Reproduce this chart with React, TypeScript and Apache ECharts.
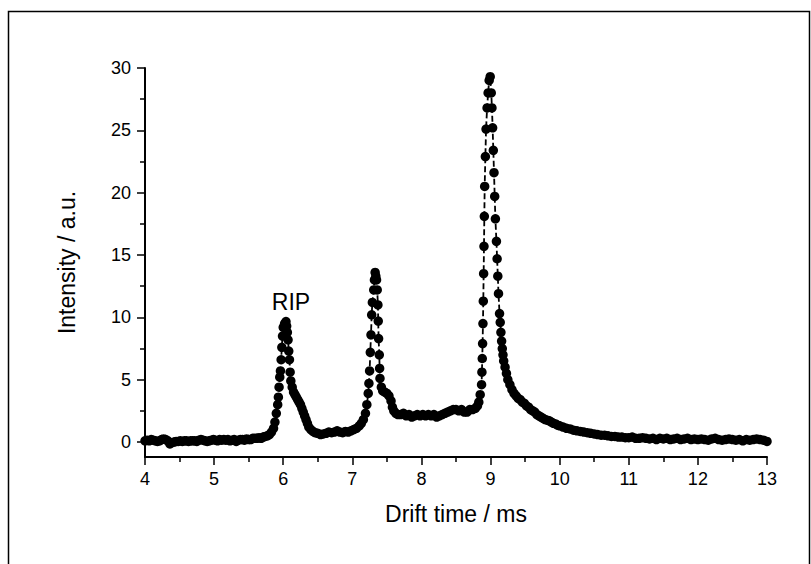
import React, { useEffect, useRef } from "react";
import * as echarts from "echarts";

// Drift time (ms) / intensity (a.u.) pairs, by region
const baselineLeft: [number, number][] = [
  [4.0, 0.1], [4.03, 0.15], [4.06, 0.1], [4.09, 0.2], [4.12, 0.15], [4.15, 0.1], [4.18, 0.05], [4.21, 0.1],
  [4.24, 0.2], [4.27, 0.25], [4.3, 0.2], [4.33, 0.1], [4.36, -0.15], [4.39, -0.05], [4.42, 0.0], [4.45, 0.05],
  [4.48, 0.05], [4.51, 0.1], [4.54, 0.05], [4.57, 0.1], [4.6, 0.1], [4.63, 0.05], [4.66, 0.1], [4.69, 0.1],
  [4.72, 0.1], [4.75, 0.05], [4.78, 0.15], [4.81, 0.2], [4.84, 0.15], [4.87, 0.1], [4.9, 0.05], [4.93, 0.1],
  [4.96, 0.15], [4.99, 0.2], [5.02, 0.15], [5.05, 0.1], [5.08, 0.2], [5.11, 0.15], [5.14, 0.2], [5.17, 0.15],
  [5.2, 0.2], [5.23, 0.1], [5.26, 0.15], [5.29, 0.2], [5.32, 0.05], [5.35, 0.15], [5.38, 0.2], [5.41, 0.2],
  [5.44, 0.15], [5.47, 0.25], [5.5, 0.2], [5.53, 0.2], [5.56, 0.3], [5.59, 0.3], [5.62, 0.3], [5.65, 0.35],
  [5.68, 0.3], [5.71, 0.4], [5.74, 0.45], [5.77, 0.5], [5.8, 0.6], [5.83, 0.8], [5.86, 1.1], [5.88, 1.6],
];

const ripPeak: [number, number][] = [
  [5.9, 2.3], [5.92, 3.0], [5.93, 3.6], [5.94, 4.4], [5.95, 5.2], [5.96, 5.7], [5.97, 6.6], [5.98, 7.6],
  [5.99, 8.5], [6.0, 9.2], [6.02, 9.5], [6.04, 9.66], [6.05, 9.3], [6.06, 8.8], [6.07, 8.2], [6.08, 7.3],
  [6.09, 6.6], [6.1, 5.6], [6.11, 4.9], [6.13, 4.4], [6.15, 4.0], [6.17, 3.8], [6.19, 3.6], [6.21, 3.4],
  [6.23, 3.2], [6.25, 3.0], [6.27, 2.7], [6.29, 2.4], [6.31, 2.1], [6.33, 1.8], [6.35, 1.5], [6.37, 1.2],
  [6.4, 1.0], [6.43, 0.85], [6.46, 0.75], [6.5, 0.7], [6.54, 0.6], [6.58, 0.65], [6.62, 0.7], [6.66, 0.8],
  [6.7, 0.75], [6.74, 0.8], [6.78, 0.9], [6.82, 0.8], [6.86, 0.75], [6.9, 0.85], [6.94, 0.8], [6.98, 0.9],
  [7.02, 1.0], [7.06, 1.1], [7.1, 1.3], [7.13, 1.5], [7.16, 1.8], [7.19, 2.3], [7.21, 3.0],
];

const secondPeak: [number, number][] = [
  [7.23, 3.9], [7.24, 4.7], [7.25, 5.7], [7.26, 7.2], [7.27, 8.6], [7.28, 10.2], [7.29, 11.2], [7.31, 12.2],
  [7.32, 13.0], [7.33, 13.6], [7.34, 13.3], [7.35, 13.0], [7.36, 12.2], [7.37, 11.0], [7.375, 9.7], [7.38, 8.3],
  [7.39, 7.0], [7.395, 5.9], [7.4, 5.1], [7.42, 4.4], [7.44, 4.1], [7.47, 4.0], [7.5, 3.9], [7.53, 3.7],
  [7.56, 3.3], [7.58, 2.8], [7.6, 2.5], [7.63, 2.3], [7.66, 2.2],
];

const plateau: [number, number][] = [
  [7.7, 2.2], [7.74, 2.3], [7.78, 2.1], [7.82, 2.2], [7.86, 2.0], [7.9, 2.1], [7.94, 2.2], [7.98, 2.1],
  [8.02, 2.2], [8.06, 2.1], [8.1, 2.2], [8.14, 2.1], [8.18, 2.2], [8.22, 2.0], [8.26, 2.1], [8.3, 2.2],
  [8.34, 2.3], [8.38, 2.4], [8.42, 2.5], [8.46, 2.6], [8.5, 2.6], [8.54, 2.5], [8.58, 2.6], [8.62, 2.4],
  [8.66, 2.4], [8.7, 2.6], [8.74, 2.6], [8.78, 2.7], [8.81, 2.9], [8.83, 3.2], [8.85, 3.8], [8.87, 4.6],
];

const mainPeak: [number, number][] = [
  [8.875, 5.6], [8.88, 6.7], [8.885, 7.9], [8.89, 9.5], [8.895, 11.3], [8.9, 13.5], [8.905, 15.7], [8.91, 18.1],
  [8.915, 20.5], [8.925, 22.9], [8.935, 25.1], [8.95, 26.8], [8.965, 28.0], [8.98, 29.0], [8.995, 29.3],
  [9.01, 28.0], [9.02, 26.8], [9.03, 25.2], [9.04, 23.4], [9.05, 21.6], [9.06, 19.7], [9.07, 17.9], [9.085, 16.1],
  [9.095, 14.7], [9.105, 13.3], [9.115, 11.9], [9.13, 10.3], [9.14, 9.6], [9.15, 8.8], [9.16, 8.1], [9.17, 7.5],
  [9.18, 7.0], [9.19, 6.5], [9.21, 6.0], [9.23, 5.5], [9.25, 5.0], [9.28, 4.6], [9.31, 4.2], [9.34, 3.9],
  [9.37, 3.7], [9.4, 3.5], [9.43, 3.4], [9.46, 3.2], [9.49, 3.1], [9.52, 2.9], [9.55, 2.8], [9.58, 2.6],
  [9.61, 2.5], [9.64, 2.4], [9.67, 2.2], [9.7, 2.1], [9.73, 2.0], [9.76, 1.9], [9.79, 1.8], [9.82, 1.75],
  [9.85, 1.7], [9.88, 1.6], [9.91, 1.5], [9.94, 1.45], [9.97, 1.35],
];

const tail: [number, number][] = [
  [10.0, 1.3], [10.05, 1.2], [10.1, 1.1], [10.15, 1.05], [10.2, 0.95], [10.25, 0.9], [10.3, 0.85], [10.35, 0.8],
  [10.4, 0.75], [10.45, 0.7], [10.5, 0.65], [10.55, 0.6], [10.6, 0.55], [10.65, 0.55], [10.7, 0.5], [10.75, 0.45],
  [10.8, 0.45], [10.85, 0.4], [10.9, 0.4], [10.95, 0.35], [11.0, 0.35], [11.05, 0.4], [11.1, 0.3], [11.15, 0.3],
  [11.2, 0.35], [11.25, 0.3], [11.3, 0.25], [11.35, 0.3], [11.4, 0.2], [11.45, 0.3], [11.5, 0.25], [11.55, 0.3],
  [11.6, 0.2], [11.65, 0.25], [11.7, 0.3], [11.75, 0.2], [11.8, 0.25], [11.85, 0.3], [11.9, 0.2], [11.95, 0.25],
  [12.0, 0.2], [12.05, 0.25], [12.1, 0.2], [12.15, 0.15], [12.2, 0.25], [12.25, 0.3], [12.3, 0.2], [12.35, 0.15],
  [12.4, 0.2], [12.45, 0.25], [12.5, 0.2], [12.55, 0.15], [12.6, 0.2], [12.65, 0.1], [12.7, 0.2], [12.75, 0.15],
  [12.8, 0.2], [12.85, 0.25], [12.9, 0.2], [12.95, 0.15], [13.0, 0.05],
];

const yLabelValues = [0, 5, 10, 15, 20, 25, 30];
const yMinorValues = [2.5, 7.5, 12.5, 17.5, 22.5, 27.5];
const xAxisTitle = "Drift time / ms";
const yAxisTitle = "Intensity / a.u.";
const peakLabel = "RIP";

const FONT = "'Liberation Sans', Arial, Helvetica, sans-serif";

export default function App() {
  const ref = useRef<HTMLDivElement>(null);
  useEffect(() => {
    if (!ref.current) return;
    const chart = echarts.init(ref.current, null, { renderer: "svg" });
    const data = [...baselineLeft, ...ripPeak, ...secondPeak, ...plateau, ...mainPeak, ...tail];
    const axisColor = "#000";
    chart.setOption({
      animation: false,
      backgroundColor: "#fff",
      textStyle: { fontFamily: FONT },
      grid: { left: 145, right: 44, top: 68, bottom: 107, containLabel: false },
      xAxis: {
        type: "value",
        min: 4,
        max: 13,
        interval: 1,
        name: xAxisTitle,
        nameLocation: "middle",
        nameGap: 45,
        nameTextStyle: { fontSize: 23, color: "#000", fontFamily: FONT },
        axisLine: { show: true, onZero: false, lineStyle: { color: axisColor, width: 2 } },
        axisTick: { show: true, inside: false, length: 8, lineStyle: { color: axisColor, width: 1.5 } },
        minorTick: { show: true, splitNumber: 2, length: 5, lineStyle: { color: axisColor, width: 1.5 } },
        axisLabel: { color: "#000", fontSize: 18, margin: 13, fontFamily: FONT },
        splitLine: { show: false },
      },
      yAxis: [
        {
          type: "value",
          min: -1.2,
          max: 30,
          name: yAxisTitle,
          nameLocation: "middle",
          nameGap: 67,
          nameRotate: 90,
          nameTextStyle: { fontSize: 23, color: "#000", fontFamily: FONT },
          axisLine: { show: true, onZero: false, lineStyle: { color: axisColor, width: 2 } },
          axisTick: { show: true, inside: false, length: 8, customValues: yLabelValues, lineStyle: { color: axisColor, width: 1.5 } },
          axisLabel: { color: "#000", fontSize: 18, margin: 14, customValues: yLabelValues, fontFamily: FONT },
          splitLine: { show: false },
        },
        {
          type: "value",
          min: -1.2,
          max: 30,
          position: "left",
          axisLine: { show: false, onZero: false },
          axisTick: { show: true, inside: false, length: 5, customValues: yMinorValues, lineStyle: { color: axisColor, width: 1.5 } },
          axisLabel: { show: false },
          splitLine: { show: false },
        },
      ],
      graphic: [
        {
          type: "polyline",
          shape: { points: [[8.5, 600], [8.5, 11.5], [809.5, 11.5], [809.5, 600]] },
          style: { stroke: "#000", lineWidth: 1.5, fill: null },
          silent: true,
        },
        {
          type: "text",
          x: 291,
          y: 302,
          style: {
            text: peakLabel,
            fontSize: 23,
            fontFamily: FONT,
            fill: "#000",
            textAlign: "center",
            textVerticalAlign: "middle",
          },
        },
      ],
      series: [
        {
          type: "line",
          data,
          xAxisIndex: 0,
          yAxisIndex: 0,
          symbol: "circle",
          symbolSize: 9.5,
          showAllSymbol: true,
          itemStyle: { color: "#000" },
          lineStyle: { color: "#000", width: 1.8, type: [6, 3] },
          emphasis: { disabled: true },
        },
      ],
    });
    return () => chart.dispose();
  }, []);
  return (
    <div
      ref={ref}
      style={{ position: "fixed", left: 0, top: 0, width: 811, height: 564, background: "#fff" }}
    />
  );
}
